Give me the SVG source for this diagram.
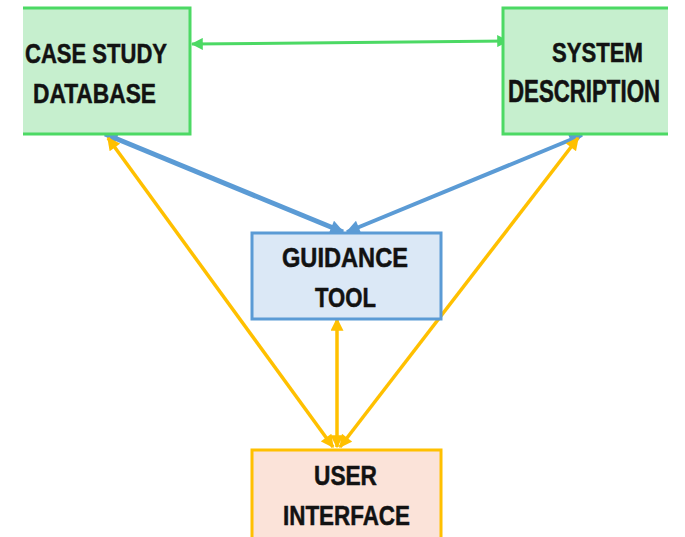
<svg xmlns="http://www.w3.org/2000/svg" width="685" height="537" viewBox="0 0 685 537">
  <style>
    .lbl { font-family: "Liberation Sans", Arial, sans-serif; font-weight: bold; font-size: 27px; fill: #121212; stroke: #121212; stroke-width: 0.5; }
    .green-box { fill: #c6efce; stroke: #4cd964; stroke-width: 3; }
    .blue-box { fill: #dbe8f6; stroke: #5b9bd5; stroke-width: 3; }
    .user-box { fill: #fbe3d9; stroke: #ffc000; stroke-width: 3; }
    .c-green { stroke: #4cd964; stroke-width: 3; fill: none; marker-start: url(#hg); marker-end: url(#hg); }
    .c-blue { stroke: #5b9bd5; fill: none; marker-start: url(#hb); marker-end: url(#hb); }
    .c-yellow { stroke: #ffc000; stroke-width: 3.5; fill: none; marker-start: url(#hy); marker-end: url(#hy); }
  </style>
  <defs>
    <!-- visible frame: the outer boxes run past the left and right edges -->
    <clipPath id="frame">
      <rect x="23" y="0" width="645" height="537"/>
    </clipPath>
    <marker id="hg" viewBox="0 0 10 10" refX="9" refY="5" markerWidth="12" markerHeight="12" markerUnits="userSpaceOnUse" orient="auto-start-reverse">
      <path d="M0,0 L10,5 L0,10 z" fill="#4cd964"/>
    </marker>
    <marker id="hb" viewBox="0 0 10 10" refX="9" refY="5" markerWidth="15" markerHeight="14" markerUnits="userSpaceOnUse" orient="auto-start-reverse">
      <path d="M0,0 L10,5 L0,10 z" fill="#5b9bd5"/>
    </marker>
    <marker id="hy" viewBox="0 0 10 10" refX="9" refY="5" markerWidth="14" markerHeight="13" markerUnits="userSpaceOnUse" orient="auto-start-reverse">
      <path d="M0,0 L10,5 L0,10 z" fill="#ffc000"/>
    </marker>
  </defs>

  <rect x="0" y="0" width="685" height="537" fill="#ffffff"/>

  <g id="connectors">
    <line class="c-green" x1="192" y1="44" x2="508" y2="41"/>
    <line class="c-blue" stroke-width="5" x1="105" y1="134" x2="343" y2="232"/>
    <line class="c-blue" stroke-width="4" x1="582" y1="135" x2="347" y2="232"/>
    <line class="c-yellow" x1="108" y1="138" x2="333" y2="447"/>
    <line class="c-yellow" x1="578" y1="138" x2="340" y2="447"/>
    <line class="c-yellow" x1="337" y1="319" x2="337" y2="447"/>
  </g>

  <g id="case-study-database">
    <rect class="green-box" x="8" y="8" width="182" height="126" clip-path="url(#frame)"/>
    <text class="lbl" x="25" y="63" textLength="142" lengthAdjust="spacingAndGlyphs">CASE STUDY</text>
    <text class="lbl" x="33" y="103" textLength="123" lengthAdjust="spacingAndGlyphs">DATABASE</text>
  </g>

  <g id="system-description">
    <rect class="green-box" x="503" y="8" width="178" height="126" clip-path="url(#frame)"/>
    <text class="lbl" x="552" y="62" textLength="91" lengthAdjust="spacingAndGlyphs">SYSTEM</text>
    <!-- long label: smaller size, stretched vertically to keep the cap height -->
    <text class="lbl" transform="translate(508,102) scale(1,1.15)" x="0" y="0" font-size="22" textLength="152" lengthAdjust="spacingAndGlyphs">DESCRIPTION</text>
  </g>

  <g id="guidance-tool">
    <rect class="blue-box" x="252" y="233" width="189" height="86"/>
    <text class="lbl" x="282" y="267" textLength="126" lengthAdjust="spacingAndGlyphs">GUIDANCE</text>
    <text class="lbl" x="315" y="307" textLength="61" lengthAdjust="spacingAndGlyphs">TOOL</text>
  </g>

  <g id="user-interface">
    <rect class="user-box" x="252" y="450" width="189" height="100"/>
    <text class="lbl" x="314" y="485" textLength="63" lengthAdjust="spacingAndGlyphs">USER</text>
    <text class="lbl" x="283" y="525" textLength="127" lengthAdjust="spacingAndGlyphs">INTERFACE</text>
  </g>
</svg>
